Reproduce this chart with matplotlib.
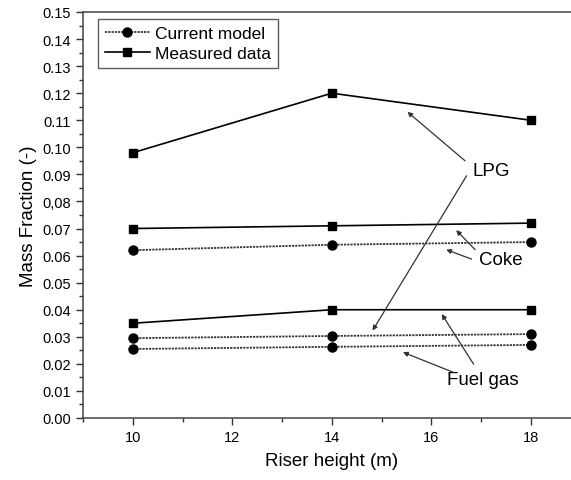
import numpy as np
import matplotlib.pyplot as plt
from matplotlib.ticker import MultipleLocator, FixedLocator, FixedFormatter

plt.rcParams['font.family'] = ['Liberation Sans', 'DejaVu Sans']

# riser height positions (m)
height = [10, 14, 18]

# measured mass fractions
lpg_meas = [0.098, 0.120, 0.110]
coke_meas = [0.070, 0.071, 0.072]
gas_meas = [0.035, 0.040, 0.040]

# model predictions
coke_model = [0.062, 0.064, 0.065]
lpg_model = [0.0295, 0.0303, 0.031]
gas_model = [0.0255, 0.0263, 0.027]

ytick_vals = [0.00, 0.01, 0.02, 0.03, 0.04, 0.05, 0.06, 0.07, 0.08,
              0.09, 0.10, 0.11, 0.12, 0.13, 0.14, 0.15]
ytick_text = ['0.00', '0.01', '0.02', '0.03', '0.04', '0.05', '0.06', '0.07',
              '0,08', '0.09', '0.10', '0.11', '0.12', '0.13', '0.14', '0.15']

fig = plt.figure(figsize=(5.71, 4.81), dpi=100)
ax = fig.add_axes([0.1454, 0.1289, 0.8713, 0.8441])

model_style = dict(color='#333333', linestyle=(0, (1.2, 0.6)), linewidth=1.3,
                   marker='o', markersize=6.5, markerfacecolor='black',
                   markeredgecolor='black')
meas_style = dict(color='black', linestyle='-', linewidth=1.2,
                  marker='s', markersize=6, markerfacecolor='black',
                  markeredgecolor='black')

ax.plot(height, coke_model, label='Current model', **model_style)
ax.plot(height, lpg_model, **model_style)
ax.plot(height, gas_model, **model_style)
ax.plot(height, lpg_meas, label='Measured data', **meas_style)
ax.plot(height, coke_meas, **meas_style)
ax.plot(height, gas_meas, **meas_style)

arrow = dict(arrowstyle='-|>', color='#333333', lw=0.9,
             mutation_scale=7, shrinkA=0, shrinkB=0)

# LPG labels
ax.text(17.2, 0.0913, 'LPG', fontsize=13.5, ha='center', va='center')
ax.annotate('', xy=(15.52, 0.1131), xytext=(16.68, 0.0950), arrowprops=arrow)
ax.annotate('', xy=(14.82, 0.0323), xytext=(16.71, 0.0895), arrowprops=arrow)

# Coke labels
ax.text(17.4, 0.0587, 'Coke', fontsize=13.5, ha='center', va='center')
ax.annotate('', xy=(16.50, 0.0694), xytext=(16.88, 0.0622), arrowprops=arrow)
ax.annotate('', xy=(16.30, 0.0622), xytext=(16.81, 0.0587), arrowprops=arrow)

# Fuel gas labels
ax.text(17.03, 0.0144, 'Fuel gas', fontsize=13.5, ha='center', va='center')
ax.annotate('', xy=(16.21, 0.0384), xytext=(16.85, 0.0199), arrowprops=arrow)
ax.annotate('', xy=(15.43, 0.0243), xytext=(16.44, 0.0169), arrowprops=arrow)

ax.set_xlim(9, 19)
ax.set_ylim(0, 0.15)
ax.xaxis.set_major_locator(FixedLocator([10, 12, 14, 16, 18]))
ax.xaxis.set_minor_locator(MultipleLocator(1))
ax.yaxis.set_major_locator(FixedLocator(ytick_vals))
ax.yaxis.set_major_formatter(FixedFormatter(ytick_text))
ax.yaxis.set_minor_locator(MultipleLocator(0.005))

ax.tick_params(which='major', direction='out', length=5, width=1,
               labelsize=10.5, color='#333333')
ax.tick_params(which='minor', direction='out', length=3, width=1,
               color='#333333')

for side in ['left', 'bottom', 'top']:
    ax.spines[side].set_color('#444444')
    ax.spines[side].set_linewidth(1.1)
ax.spines['right'].set_visible(False)

ax.set_xlabel('Riser height (m)', fontsize=13.5, labelpad=6)
ax.set_ylabel('Mass Fraction (-)', fontsize=13.5, labelpad=4)

leg = ax.legend(loc='upper left', bbox_to_anchor=(0.03, 0.983), borderaxespad=0,
                fontsize=12.5, frameon=True, fancybox=False, handlelength=2.6,
                handletextpad=0.3, borderpad=0.4, labelspacing=0.3)
leg.get_frame().set_edgecolor('#333333')
leg.get_frame().set_linewidth(1.0)

fig.savefig('out.png', dpi=100)
